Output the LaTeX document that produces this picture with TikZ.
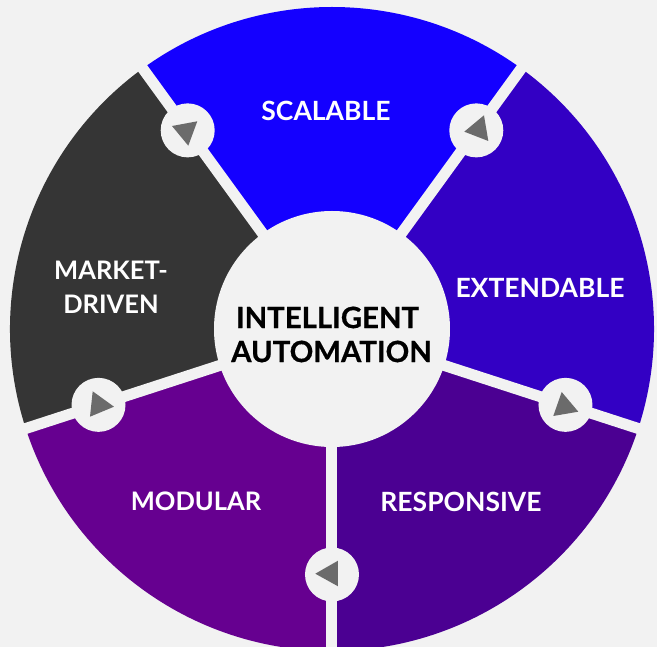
\documentclass[tikz,border=0pt]{standalone}
\usepackage{fontspec}
\setmainfont{Lato}
\newfontfamily\heavyfont[BoldFeatures={FakeBold=0.6}]{Lato}
\definecolor{bg}{HTML}{F2F2F2}
\definecolor{cblue}{HTML}{1400FF}
\definecolor{cext}{HTML}{3300C4}
\definecolor{cresp}{HTML}{4B0092}
\definecolor{cmod}{HTML}{660090}
\definecolor{cdark}{HTML}{353535}
\definecolor{ctri}{HTML}{6B6B6B}
\tikzset{
  wedgefill/.style={draw=none},
  sep/.style={draw=bg,line width=11pt},
  hub/.style={circle,fill=bg,draw=none,minimum size=54pt,inner sep=0pt},
  tri/.style={fill=ctri,draw=none},
  lab/.style={text=white,font=\fontsize{26.5}{34}\selectfont\bfseries,align=center,inner sep=0pt},
  labs/.style={text=white,font=\fontsize{25.5}{34}\selectfont\bfseries,align=center,inner sep=0pt},
  centre/.style={text=black,font=\heavyfont\fontsize{29.3}{34}\selectfont\bfseries,align=center,inner sep=0pt}
}
\newcommand{\seg}[3]{\fill[wedgefill,#1] (0,0) -- (#2:322) arc[start angle=#2,end angle=#3,radius=322] -- cycle;}
\newcommand{\ptri}[6]{\fill[tri] (#1-332,329-#2) -- (#3-332,329-#4) -- (#5-332,329-#6) -- cycle;}
\begin{document}
\begin{tikzpicture}[x=1pt,y=1pt]
\fill[bg] (-332,-318) rectangle (325,329);
\useasboundingbox (-332,-318) rectangle (325,329);
\begin{scope}
\clip (-332,-318) rectangle (325,329);
\seg{cblue}{54}{126}
\seg{cext}{-18}{54}
\seg{cresp}{-90}{-18}
\seg{cmod}{-162}{-90}
\seg{cdark}{126}{198}
\coordinate (o) at (0,0);
\foreach \a in {54,126,198,-18,-90}{ \draw[sep] (o) -- (\a:335); }
\end{scope}
\node[circle,fill=bg,minimum size=236pt,inner sep=0pt] (core) at (0,0) {};
\foreach \n/\a in {h1/54,h2/126,h3/198,h4/-18,h5/-90}{ \node[hub] (\n) at (\a:245.5) {}; }
\ptri{172}{126}{197.3}{121.3}{188.3}{145.7}
\ptri{484}{115.3}{464.3}{131.7}{488.3}{141}
\ptri{561.7}{392}{578.3}{411.7}{553.3}{416}
\ptri{338}{560.7}{315.3}{573.7}{338}{586.3}
\ptri{92.7}{391.3}{114}{406.7}{90}{416.7}
\node[lab] (scal) at (326-332,329-110.5) {SCALABLE};
\node[lab] (ext) at (540-332,329-287.5) {EXTENDABLE};
\node[lab] (resp) at (461-332,329-501.5) {RESPONSIVE};
\node[labs] (mod) at (196-332,329-501.5) {MODULAR};
\node[labs] (mark) at (111-332,329-287.5) {MARKET-\\DRIVEN};
\node[centre] (title1) at (327.5-332,329-317.5) {INTELLIGENT};
\node[centre] (title2) at (331.5-332,329-351.5) {AUTOMATION};
\end{tikzpicture}
\end{document}
